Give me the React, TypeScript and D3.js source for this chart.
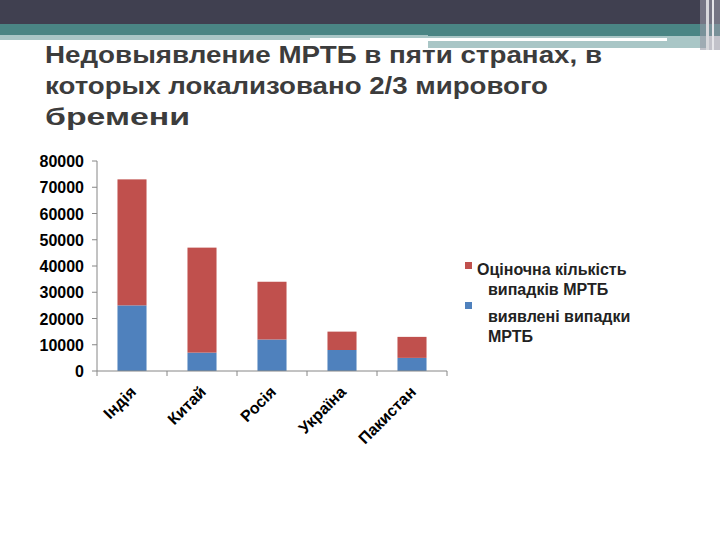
import React from "react";
import * as d3 from "d3";

const categories = ["Індія", "Китай", "Росія", "Україна", "Пакистан"];
const detected = [25000, 7000, 12000, 8000, 5000];
const estimated = [48000, 40000, 22000, 7000, 8000];
const yTicks = [0, 10000, 20000, 30000, 40000, 50000, 60000, 70000, 80000];
const titleLines = [
  "Недовыявление  МРТБ в пяти странах, в",
  "которых локализовано 2/3 мирового",
  "бремени",
];
const seriesNames = ["Оціночна кількість", "виявлені випадки"];

const RED = "#C0504D";
const BLUE = "#4F81BD";

export default function App() {
  const W = 720, H = 540;
  const x0 = 97, x1 = 447, yTop = 161, yBottom = 371;
  const x = d3.scaleBand().domain(categories).range([x0, x1]).paddingInner(0.585).paddingOuter(0.2925);
  const y = d3.scaleLinear().domain([0, 80000]).range([yBottom, yTop]);
  const band = d3.scaleBand().domain(categories).range([x0, x1]);
  const stackData = categories.map((c, i) => ({ c, detected: detected[i], estimated: estimated[i] }));
  const stacks = d3.stack<any>().keys(["detected", "estimated"])(stackData);
  const colors = [BLUE, RED];
  const font = "'Liberation Sans', Arial, sans-serif";
  const titleWidths = [557, 503, 145];

  return (
    <svg width={W} height={H} style={{ position: "absolute", left: 0, top: 0, background: "#fff" }}>
      {/* header decoration */}
      <rect x={0} y={0} width={720} height={25} fill="#404050" />
      <rect x={0} y={24} width={720} height={12} fill="#4a8584" />
      <rect x={0} y={35} width={428} height={5} fill="#a9c6c6" />
      <rect x={428} y={36} width={280} height={12} fill="#a9c6c6" />
      <rect x={310} y={38} width={357} height={3} fill="#ffffff" />
      <rect x={700} y={0} width={20} height={50} fill="#9a9aa6" opacity={0.6} />
      <rect x={706} y={0} width={3} height={50} fill="#d8d8dc" />
      <rect x={712} y={0} width={2} height={50} fill="#e6e6ea" />

      {/* title */}
      <g fontFamily={font} fontWeight="bold" fontSize={24} fill="#3c3c3c">
        {titleLines.map((t, i) => (
          <text key={i} x={45} y={63 + i * 31} textLength={titleWidths[i]} lengthAdjust="spacingAndGlyphs">{t}</text>
        ))}
      </g>

      {/* y axis */}
      <line x1={x0} x2={x0} y1={yTop} y2={yBottom} stroke="#868686" />
      {yTicks.map((t) => (
        <g key={t}>
          <line x1={x0 - 5} x2={x0} y1={y(t)} y2={y(t)} stroke="#868686" />
          <text x={84} y={y(t) + 6} textAnchor="end" fontFamily={font} fontWeight="bold" fontSize={16} fill="#000">{t}</text>
        </g>
      ))}

      {/* bars */}
      {stacks.map((s, si) =>
        s.map((d, i) => (
          <rect key={si + "-" + i} x={x(categories[i])} width={x.bandwidth()} y={y(d[1])} height={y(d[0]) - y(d[1])} fill={colors[si]} />
        ))
      )}

      {/* x axis */}
      <line x1={x0} x2={x1} y1={yBottom} y2={yBottom} stroke="#868686" />
      {categories.map((c, i) => (
        <line key={"t" + i} x1={band(c)!} x2={band(c)!} y1={yBottom} y2={yBottom + 5} stroke="#868686" />
      ))}
      <line x1={x1} x2={x1} y1={yBottom} y2={yBottom + 5} stroke="#868686" />
      {categories.map((c) => {
        const cx = band(c)! + band.bandwidth() / 2 + 5;
        const cy = yBottom + 22;
        return (
          <text key={c} x={cx} y={cy} transform={`rotate(-45 ${cx} ${cy})`} textAnchor="end" fontFamily={font} fontWeight="bold" fontSize={16} fill="#000">{c}</text>
        );
      })}

      {/* legend */}
      <g fontFamily={font} fontWeight="bold" fontSize={16} fill="#222">
        <rect x={465} y={262} width={7} height={7} fill={RED} />
        <text x={477} y={275}>{seriesNames[0]}</text>
        <text x={488} y={295}>випадків МРТБ</text>
        <rect x={465} y={302} width={7} height={7} fill={BLUE} />
        <text x={488} y={322}>{seriesNames[1]}</text>
        <text x={488} y={342}>МРТБ</text>
      </g>
    </svg>
  );
}
